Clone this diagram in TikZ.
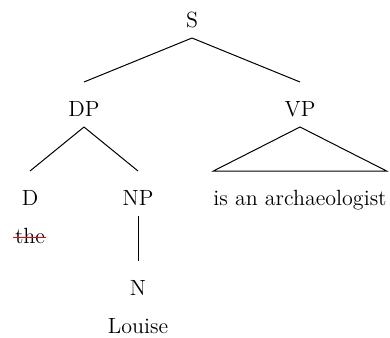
\documentclass[tikz,border=0pt]{standalone}
\usetikzlibrary{calc}
\tikzset{
  lab/.style={inner sep=0pt, outer sep=0pt, anchor=base, text height=7pt, text depth=0pt, font=\fontsize{11}{13}\selectfont},
  edge/.style={line width=0.5pt, black},
  strike/.style={red, line width=0.5pt}
}
\begin{document}
\begin{tikzpicture}[x=0.5pt,y=-0.5pt]
\useasboundingbox (0,0) rectangle (390,337);
\node[lab] (S) at (192,27) {S};
\node[lab] (DP) at (84,116) {DP};
\node[lab] (VP) at (300,116) {VP};
\node[lab] (D) at (30,205) {D};
\node[lab] (NP) at (138,205) {NP};
\node[lab] (arch) at (300,205) {is an archaeologist};
\node[lab] (the) at (30,243) {the};
\node[lab] (N) at (138,295) {N};
\node[lab] (L) at (138,333) {Louise};
\draw[edge] ([yshift=-5.5pt]S.south) -- ([yshift=10pt]DP.north);
\draw[edge] ([yshift=-5.5pt]S.south) -- ([yshift=10pt]VP.north);
\draw[edge] ([yshift=-5.5pt]DP.south) -- ([yshift=10pt]D.north);
\draw[edge] ([yshift=-5.5pt]DP.south) -- ([yshift=10pt]NP.north);
\draw[edge] ([yshift=-5.5pt]NP.south) -- ([yshift=10pt]N.north);
\draw[edge] ([yshift=-5.5pt]VP.south) -- ([yshift=10pt]arch.north west) -- ([yshift=10pt]arch.north east) -- cycle;
\draw[strike] ([yshift=3pt,xshift=-1pt]the.base west) -- ([yshift=3pt,xshift=0.5pt]the.base east);
\end{tikzpicture}
\end{document}
